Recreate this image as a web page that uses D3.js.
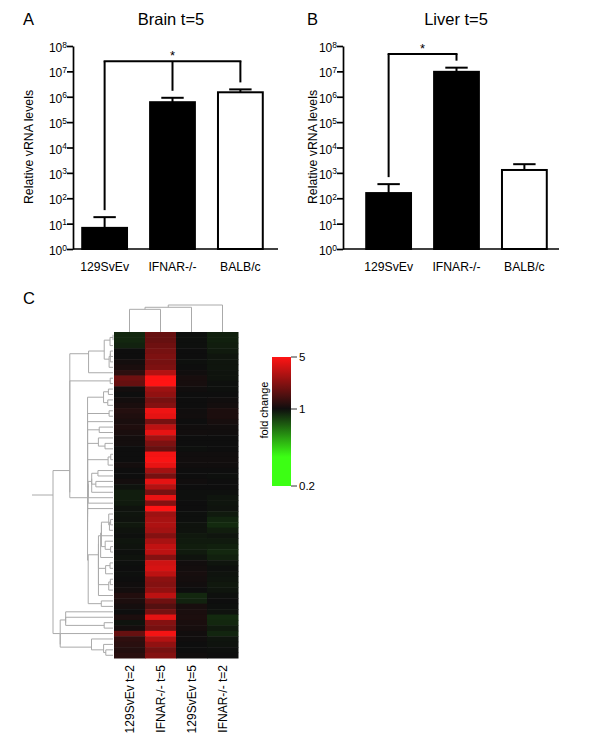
<!DOCTYPE html>
<meta charset="utf-8">
<head>
  <style>
    body {
      margin: 0;
      background: #fff;
    }
    svg {
      display: block;
      font-family: "Liberation Sans", Arial, sans-serif;
    }
  </style>
</head>
<body>
  <script src="https://d3js.org/d3.v7.min.js"></script>
  <script>
    // ---- panel A / B data ----
    const categories = ["129SvEv", "IFNAR-/-", "BALB/c"];
    const barFills = ["#000", "#000", "#fff"];
    const yTicks = [1, 1e1, 1e2, 1e3, 1e4, 1e5, 1e6, 1e7, 1e8];
    const brainMean = [6.8, 6.1e5, 1.5e6];
    const brainErrTop = [18, 9.1e5, 1.95e6];
    const liverMean = [160, 9.6e6, 1300];
    const liverErrTop = [360, 1.4e7, 2200];
    // bracket: indexes of the legs, level of the bar
    const brainBracket = { legs: [0, 1, 2], level: 2.5e7 };
    const liverBracket = { legs: [0, 1], level: 4.8e7 };

    // ---- panel C data ----
    const heatCols = ["129SvEv t=2", "IFNAR-/- t=5", "129SvEv t=5", "IFNAR-/- t=2"];
    const col129t2 = [0.9, 0.9, 0.92, 1.0, 1.0, 1.04, 1.08, 1.22, 1.9, 1.8,
      1.04, 1.0, 1.04, 1.08, 1.16, 1.12, 1.08, 1.12, 1.08, 1.04,
      1.04, 1.0, 1.0, 1.0, 1.04, 1.0, 1.0, 1.04, 0.98, 0.94,
      0.94, 0.95, 0.98, 0.97, 0.98, 0.96, 0.98, 0.99, 0.97, 0.98,
      0.99, 0.98, 0.99, 1.0, 0.99, 1.0, 1.02, 1.04, 1.14, 1.1,
      1.05, 1.0, 1.1, 0.98, 1.05, 1.8, 1.25, 1.2, 1.15, 1.2];
    const colIfnT5 = [1.8, 1.8, 1.9, 2.0, 2.1, 2.0, 2.1, 3.0, 5.0, 5.0,
      2.6, 2.4, 2.0, 2.2, 4.5, 4.2, 2.0, 3.2, 4.2, 2.6,
      2.1, 1.8, 4.6, 4.8, 4.3, 2.7, 2.0, 4.2, 3.0, 2.0,
      4.3, 2.2, 5.0, 2.6, 2.8, 2.9, 2.7, 2.2, 2.8, 3.3,
      3.2, 2.2, 3.6, 3.8, 3.2, 2.3, 2.2, 2.4, 3.2, 1.9,
      1.6, 2.0, 4.2, 2.2, 2.0, 4.6, 3.0, 2.4, 2.0, 2.2];
    const col129t5 = [0.99, 0.99, 0.99, 1.0, 1.0, 0.99, 1.0, 1.02, 1.07, 1.06,
      1.02, 1.0, 1.0, 1.0, 1.02, 1.03, 1.0, 1.02, 1.03, 1.0,
      1.0, 0.99, 1.02, 1.03, 1.02, 1.0, 1.0, 1.02, 1.0, 0.99,
      0.99, 1.0, 1.0, 0.99, 0.99, 0.98, 0.98, 0.96, 0.95, 0.94,
      0.95, 0.98, 1.03, 1.04, 1.06, 1.05, 1.03, 1.0, 0.9, 0.92,
      1.07, 1.08, 1.1, 1.08, 1.06, 1.03, 1.02, 1.0, 1.0, 1.02];
    const colIfnT2 = [0.93, 0.93, 0.94, 0.95, 0.97, 0.97, 0.97, 0.98, 0.98, 0.99,
      0.99, 1.0, 1.02, 1.04, 1.1, 1.1, 1.06, 1.03, 1.02, 1.0,
      1.0, 1.0, 1.02, 1.03, 1.02, 1.0, 0.99, 1.0, 1.0, 0.99,
      0.97, 0.97, 0.98, 0.95, 0.91, 0.89, 0.94, 0.97, 0.95, 0.93,
      0.9, 0.93, 0.97, 0.99, 0.98, 0.97, 0.96, 0.97, 0.99, 1.0,
      0.99, 0.98, 0.89, 0.9, 0.95, 0.91, 0.97, 0.98, 0.99, 1.0];
    // column tree: [childA, childB, height]; leaves are 0-3, merged nodes get 4, 5, 6
    const colMerges = [[0, 1, 0.84], [4, 2, 0.915], [5, 3, 1.0]];
    // row tree: first row of the lower branch, and the relative heights of the two branches
    const rowSplit = 51;
    const rowBranchHeights = [0.72, 0.88];
    const foldTicks = [5, 1, 0.2];

    const svg = d3.select("body").append("svg")
      .attr("width", 600)
      .attr("height", 743);

    function barPanel(o) {
      const g = svg.append("g");
      const y = d3.scaleLog().domain([1, 1e8]).range([249, 46]);
      const x = d3.scaleBand().domain(categories).range(o.band)
        .paddingInner(0.34).paddingOuter(0.18);
      const cx = i => x(categories[i]) + x.bandwidth() / 2;

      g.append("text").attr("x", o.letterX).attr("y", 25)
        .attr("font-size", 16.5).text(o.letter);
      g.append("text").attr("x", o.titleX).attr("y", 25)
        .attr("text-anchor", "middle").attr("font-size", 16.5).text(o.title);

      g.selectAll("rect").data(o.mean).join("rect")
        .attr("x", (d, i) => x(categories[i]))
        .attr("y", d => y(d))
        .attr("width", x.bandwidth())
        .attr("height", d => y(1) - y(d))
        .attr("fill", (d, i) => barFills[i])
        .attr("stroke", "#000")
        .attr("stroke-width", 2);

      // upper error bars
      const err = g.append("g").attr("stroke", "#000").attr("stroke-width", 2);
      o.errTop.forEach((e, i) => {
        err.append("line").attr("x1", cx(i)).attr("x2", cx(i))
          .attr("y1", y(o.mean[i])).attr("y2", y(e));
        err.append("line").attr("x1", cx(i) - x.bandwidth() / 4).attr("x2", cx(i) + x.bandwidth() / 4)
          .attr("y1", y(e)).attr("y2", y(e));
      });

      // significance bracket
      const br = g.append("g").attr("stroke", "#000").attr("stroke-width", 2).attr("fill", "none");
      const legs = o.bracket.legs;
      const yb = y(o.bracket.level);
      br.append("line").attr("x1", cx(legs[0]) - 1).attr("x2", cx(legs[legs.length - 1]) + 1)
        .attr("y1", yb).attr("y2", yb);
      legs.forEach(i => {
        br.append("line").attr("x1", cx(i)).attr("x2", cx(i))
          .attr("y1", yb).attr("y2", y(o.errTop[i]) - 7);
      });
      g.append("text")
        .attr("x", (cx(legs[0]) + cx(legs[legs.length - 1])) / 2)
        .attr("y", yb - 1)
        .attr("text-anchor", "middle").attr("font-size", 13).text("*");

      // axes
      const ax = g.append("g").attr("transform", `translate(${o.axisX},0)`)
        .call(d3.axisLeft(y).tickValues(yTicks).tickFormat("").tickSize(6).tickSizeOuter(0));
      ax.selectAll("path, line").attr("stroke", "#000").attr("stroke-width", 1.7);

      const lab = g.selectAll("text.ytick").data(yTicks).join("text")
        .attr("class", "ytick")
        .attr("x", o.axisX - 6)
        .attr("y", d => y(d) + 6)
        .attr("text-anchor", "end")
        .attr("font-size", 12);
      lab.append("tspan").text("10");
      lab.append("tspan").attr("dy", -4.5).attr("font-size", 8.5)
        .text(d => Math.round(Math.log10(d)));

      g.append("line").attr("x1", o.axisX).attr("x2", o.axisEnd)
        .attr("y1", y(1)).attr("y2", y(1))
        .attr("stroke", "#000").attr("stroke-width", 1.7);

      g.selectAll("text.xcat").data(categories).join("text")
        .attr("class", "xcat")
        .attr("x", d => x(d) + x.bandwidth() / 2)
        .attr("y", 271)
        .attr("text-anchor", "middle")
        .attr("font-size", 12.2)
        .text(d => d);

      g.append("text")
        .attr("transform", `translate(${o.labelX},147) rotate(-90)`)
        .attr("text-anchor", "middle")
        .attr("font-size", 12.3)
        .text("Relative vRNA levels");
    }

    barPanel({
      letter: "A", letterX: 23, title: "Brain t=5", titleX: 171,
      band: [70, 275], axisX: 73, axisEnd: 278, labelX: 33,
      mean: brainMean, errTop: brainErrTop, bracket: brainBracket
    });
    barPanel({
      letter: "B", letterX: 307, title: "Liver t=5", titleX: 456,
      band: [354, 559], axisX: 343, axisEnd: 559, labelX: 317,
      mean: liverMean, errTop: liverErrTop, bracket: liverBracket
    });

    // ---- panel C: heatmap ----
    const rows = col129t2.map((v, i) => [col129t2[i], colIfnT5[i], col129t5[i], colIfnT2[i]]);
    const hx = d3.scaleBand().domain(heatCols).range([114, 238]);
    const hy = d3.scaleBand().domain(d3.range(rows.length)).range([332, 658]);

    const redSide = d3.interpolateRgb("#0e0e0e", "#ff1414");
    const greenSide = d3.interpolateRgb("#0e0e0e", "#3cff14");
    function foldColor(v) {
      const t = Math.log(v) / Math.log(5);
      return t >= 0 ? redSide(Math.min(1, t)) : greenSide(Math.min(1, -t / 0.62));
    }

    const gc = svg.append("g");
    gc.append("text").attr("x", 23).attr("y", 304).attr("font-size", 16.5).text("C");

    rows.forEach((r, i) => {
      gc.selectAll(null).data(r).join("rect")
        .attr("x", (d, j) => hx(heatCols[j]))
        .attr("y", hy(i))
        .attr("width", hx.bandwidth() + 0.5)
        .attr("height", hy.bandwidth() + 0.5)
        .attr("fill", d => foldColor(d));
    });

    gc.selectAll("text.col").data(heatCols).join("text")
      .attr("class", "col")
      .attr("transform", d => `translate(${hx(d) + hx.bandwidth() / 2 + 4},665) rotate(-90)`)
      .attr("text-anchor", "end")
      .attr("font-size", 12)
      .text(d => d);

    // column dendrogram
    const cy = d3.scaleLinear().domain([0, 1]).range([332, 305]);
    const colNodes = heatCols.map(d => ({ x: hx(d) + hx.bandwidth() / 2, h: 0 }));
    const dend = gc.append("g").attr("stroke", "#aaa").attr("stroke-width", 1).attr("fill", "none");
    colMerges.forEach(([a, b, h]) => {
      const na = colNodes[a], nb = colNodes[b];
      dend.append("path").attr("d",
        `M${na.x},${cy(na.h)}V${cy(h)}H${nb.x}V${cy(nb.h)}`);
      colNodes.push({ x: (na.x + nb.x) / 2, h: h });
    });

    // row dendrogram: neighbour-constrained average linkage on log fold change,
    // run separately on the two main branches
    const logRows = rows.map(r => r.map(v => Math.log(v)));
    const dist = (i, j) => Math.sqrt(d3.sum(logRows[i], (v, k) => (v - logRows[j][k]) ** 2));
    const leafY = i => hy(i) + hy.bandwidth() / 2;

    function cluster(idx) {
      let cl = idx.map(i => ({ members: [i], h: 0, lo: leafY(i), hi: leafY(i), y: leafY(i) }));
      const merges = [];
      while (cl.length > 1) {
        let best = 0, bestD = Infinity;
        for (let k = 0; k < cl.length - 1; k++) {
          const A = cl[k].members, B = cl[k + 1].members;
          let s = 0;
          A.forEach(i => B.forEach(j => { s += dist(i, j); }));
          const d = s / (A.length * B.length);
          if (d < bestD) { bestD = d; best = k; }
        }
        const a = cl[best], b = cl[best + 1];
        const node = {
          members: a.members.concat(b.members),
          h: Math.max(bestD, a.h, b.h),
          lo: a.lo, hi: b.hi, a: a, b: b
        };
        node.y = (node.lo + node.hi) / 2;
        merges.push(node);
        cl.splice(best, 2, node);
      }
      return { root: cl[0], merges: merges };
    }

    const branches = [d3.range(0, rowSplit), d3.range(rowSplit, rows.length)].map(cluster);
    // rescale each branch to its height
    branches.forEach((br, k) => {
      const f = rowBranchHeights[k] / br.root.h;
      br.merges.forEach(n => { n.h *= f; });
    });
    const upper = branches[0].root, lower = branches[1].root;
    const rowRoot = { a: upper, b: lower, h: 1, lo: upper.lo, hi: lower.hi };
    rowRoot.y = (rowRoot.lo + rowRoot.hi) / 2;

    const rx = d3.scaleLinear().domain([0, 1]).range([113, 53]);
    branches[0].merges.concat(branches[1].merges, [rowRoot]).forEach(n => {
      dend.append("path").attr("d",
        `M${rx(n.a.h)},${n.a.y}H${rx(n.h)}V${n.b.y}H${rx(n.b.h)}`);
    });
    dend.append("line").attr("x1", 32).attr("x2", rx(rowRoot.h))
      .attr("y1", rowRoot.y).attr("y2", rowRoot.y);

    // colour bar
    const cb = d3.scaleLog().domain([0.2, 1, 5]).range([486, 409, 357]);
    const grad = svg.append("defs").append("linearGradient")
      .attr("id", "fold").attr("x1", 0).attr("x2", 0).attr("y1", 0).attr("y2", 1);
    d3.range(0, 41).forEach(k => {
      const yy = 357 + k * (486 - 357) / 40;
      grad.append("stop").attr("offset", k / 40).attr("stop-color", foldColor(cb.invert(yy)));
    });
    gc.append("rect").attr("x", 272).attr("y", 357).attr("width", 19).attr("height", 129)
      .attr("fill", "url(#fold)");
    gc.selectAll("line.cbt").data(foldTicks).join("line")
      .attr("class", "cbt")
      .attr("x1", 291).attr("x2", 297)
      .attr("y1", d => cb(d)).attr("y2", d => cb(d))
      .attr("stroke", "#333").attr("stroke-width", 1);
    gc.selectAll("text.cbl").data(foldTicks).join("text")
      .attr("class", "cbl")
      .attr("x", 299).attr("y", d => cb(d) + 4)
      .attr("font-size", 11.5)
      .text(d => d);
    gc.append("text")
      .attr("transform", "translate(268,410) rotate(-90)")
      .attr("text-anchor", "middle")
      .attr("font-size", 11)
      .text("fold change");
  </script>
</body>
